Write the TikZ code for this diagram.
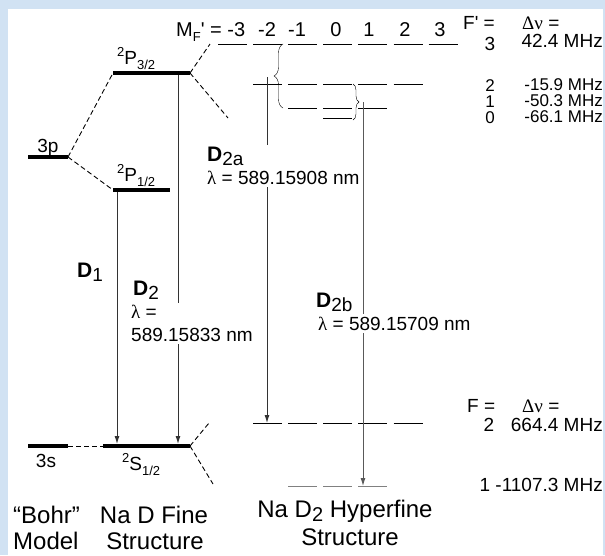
\documentclass[tikz,border=0pt]{standalone}
\usepackage{fontspec}
\setmainfont{Liberation Sans}
\newfontfamily\greekf{Liberation Serif}
\usetikzlibrary{arrows.meta,decorations.pathreplacing}
\definecolor{bgblue}{RGB}{209,226,243}
\newcommand{\upx}[1]{\raisebox{0.42em}{\fontsize{13}{13}\selectfont #1}}
\newcommand{\dnx}[1]{\raisebox{-0.28em}{\fontsize{13}{13}\selectfont #1}}
\newcommand{\dlab}[1]{{\fontsize{21}{24}\selectfont\bfseries D}\raisebox{-0.22em}{#1}}

\begin{document}
\begin{tikzpicture}[
    x=1pt, y=-1pt,
    font=\fontsize{19}{23}\selectfont,
    every node/.style={inner sep=0pt},
    level/.style={line width=4pt},
    sublevel/.style={line width=1pt},
    split/.style={line width=0.9pt, dash pattern=on 5pt off 3pt},
    trans/.style={line width=1pt, draw=black!80, -{Latex[length=8pt,width=5pt]}},
    hfsval/.style={font=\fontsize{17}{16}\selectfont},
    mfrow/.style={font=\fontsize{20}{22}\selectfont, anchor=base},
    title/.style={font=\fontsize{24}{26}\selectfont}
  ]
  \useasboundingbox (0,0) rectangle (605,555);
  \fill[bgblue] (0,0) rectangle (605,555);
  \fill[white] (8,9) rectangle (603,555);

  \coordinate (bp) at (68,157);
  \coordinate (bs) at (68,446);
  \coordinate (p32a) at (113,73);
  \coordinate (p32b) at (190,73);
  \coordinate (p12a) at (113,190);
  \coordinate (p12b) at (170,190);
  \coordinate (s12a) at (103,446);
  \coordinate (s12b) at (190,446);
  \coordinate (hfup) at (210,44);
  \coordinate (hfdn) at (228,118);
  \coordinate (hgup) at (209,423);
  \coordinate (hgdn) at (213,484);

  \draw[level] (28,157) -- (bp);
  \draw[level] (28,446) -- (bs);
  \draw[level] (p32a) -- (p32b);
  \draw[level] (p12a) -- (p12b);
  \draw[level] (s12a) -- (s12b);
  \draw[split] (bp) -- (p32a);
  \draw[split] (bp) -- (p12a);
  \draw[split] (bs) -- (s12a);
  \draw[split] (p32b) -- (hfup);
  \draw[split] (p32b) -- (hfdn);
  \draw[split] (s12b) -- (hgup);
  \draw[split] (s12b) -- (hgdn);

  \foreach \m in {-3,...,3} \draw[sublevel] ({218+35.1*(\m+3)},44) -- ++(29,0);
  \foreach \m in {-2,...,2} \draw[sublevel] ({218+35.1*(\m+3)},84) -- ++(29,0);
  \foreach \m in {-1,0,1} \draw[sublevel] ({218+35.1*(\m+3)},108) -- ++(29,0);
  \draw[sublevel] (323.3,118) -- ++(29,0);
  \foreach \m in {-2,...,2} \draw[sublevel] ({218+35.1*(\m+3)},423) -- ++(29,0);
  \foreach \m in {-1,0,1} \draw[sublevel, gray] ({218+35.1*(\m+3)},486) -- ++(29,0);

  \draw[decorate, decoration={brace, amplitude=9pt}] (283,108) -- (283,44);
  \draw[decorate, decoration={brace, amplitude=6pt}] (353,84) -- (353,120);

  \coordinate (d1top) at (117,192);
  \coordinate (d1bot) at (117,444);
  \coordinate (d2top) at (178,75);
  \coordinate (d2bot) at (178,444);
  \coordinate (d2atop) at (267,77);
  \coordinate (d2abot) at (267,423);
  \coordinate (d2btop) at (363,102);
  \coordinate (d2bbot) at (363,486);
  \draw[trans] (d1top) -- (d1bot);
  \draw[trans] (d2top) -- (d2bot);
  \draw[trans] (d2atop) -- (d2abot);
  \draw[trans, draw=black!65] (d2btop) -- (d2bbot);

  \node[anchor=base] (l3p) at (48,152) {3p};
  \node[anchor=base] (l3s) at (46,467) {3s};
  \node[anchor=base west] (lp32) at (117,64) {\upx{2}P\dnx{3/2}};
  \node[anchor=base west] (lp12) at (117,181) {\upx{2}P\dnx{1/2}};
  \node[anchor=base west] (ls12) at (122,470) {\upx{2}S\dnx{1/2}};

  \node[anchor=base west] (d1) at (77,277) {\dlab{1}};
  \node[anchor=base west] (d2) at (133,295) {\dlab{2}};
  \node[anchor=north west, align=left, fill=white, inner sep=2pt] (lam2) at (129,303) {{\greekf λ} =\\589.15833 nm};
  \node[anchor=north west, align=left, fill=white, inner sep=2pt] (d2a) at (205,145) {\dlab{2a}\\{\greekf λ} = 589.15908 nm};
  \node[anchor=base west] (d2b) at (316,307) {\dlab{2b}};
  \node[anchor=base west, fill=white, inner xsep=2pt, inner ysep=3pt] (lam2b) at (316,330) {{\greekf λ} = 589.15709 nm};

  \node[mfrow, anchor=base west] (mf) at (176,36) {M\dnx{F}\textquotesingle{} = -3};
  \foreach \lab/\xx [count=\i] in {-2/267, -1/297, 0/336, 1/369, 2/405, 3/440}
    \node[mfrow] (mf\i) at (\xx,36) {\lab};

  \node[anchor=base west] (fp) at (463,29) {F\textquotesingle{} =};
  \node[anchor=base west] (dnu1) at (522,29) {{\greekf Δν} =};
  \node[anchor=base] (f3) at (490,50) {3};
  \node[anchor=base east] (e3) at (603,47) {42.4 MHz};
  \node[hfsval, anchor=north, align=center] (fprime) at (490,79) {2\\1\\0};
  \node[hfsval, anchor=north east, align=right] (eprime) at (603,78) {-15.9 MHz\\-50.3 MHz\\-66.1 MHz};

  \node[anchor=base west] (fl) at (467,412) {F =};
  \node[anchor=base west] (dnu2) at (522,412) {{\greekf Δν} =};
  \node[anchor=base] (f2) at (489,431) {2};
  \node[anchor=base east] (e2) at (603,431) {664.4 MHz};
  \node[anchor=base east] (e1) at (603,491) {1 -1107.3 MHz};

  \node[title, anchor=base west] (bohr) at (13,523) {“Bohr”};
  \node[title, anchor=base west] (model) at (13,549) {Model};
  \node[title, anchor=base] (fine1) at (154,523) {Na D Fine};
  \node[title, anchor=base] (fine2) at (155,549) {Structure};
  \node[title, anchor=base] (hyp1) at (345,517) {Na D\raisebox{-4pt}{\fontsize{20}{20}\selectfont 2} Hyperfine};
  \node[title, anchor=base] (hyp2) at (350,545) {Structure};
\end{tikzpicture}
\end{document}
